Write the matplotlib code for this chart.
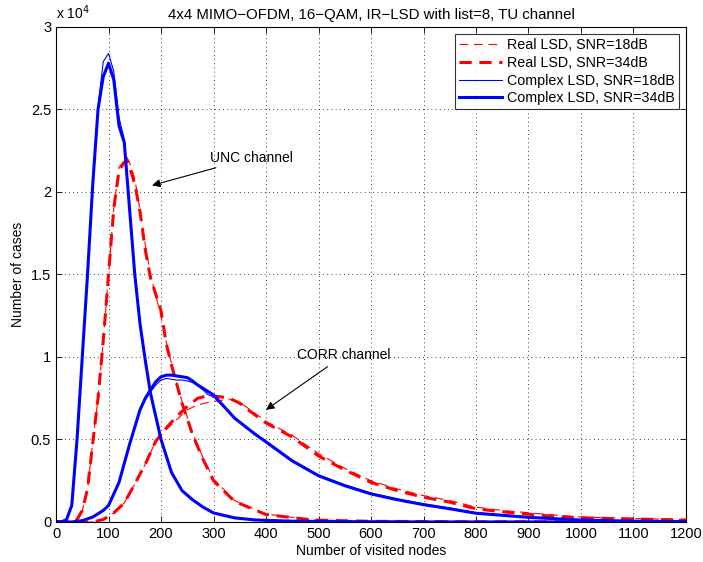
import matplotlib
matplotlib.use("Agg")
import matplotlib.pyplot as plt
from matplotlib.ticker import FuncFormatter, MultipleLocator

plt.rcParams['font.family'] = ['Liberation Sans', 'DejaVu Sans']

# ---- data (number of visited nodes vs number of cases) ----
c34_unc_x = [0, 10, 20, 30, 40, 50, 60, 70, 80, 90, 100, 110, 120, 130, 140, 150, 160, 170, 180, 200, 220, 240, 260, 280, 300, 340, 380, 450, 550, 700, 1200]
c34_unc_y = [0, 0, 150, 1000, 5000, 10000, 15000, 20500, 25000, 27000, 27800, 26800, 24000, 23000, 19000, 15000, 12000, 9800, 7800, 5000, 3000, 1900, 1350, 900, 550, 250, 120, 50, 20, 5, 0]
c18_unc_x = [0, 10, 20, 30, 40, 50, 60, 70, 80, 90, 100, 110, 120, 130, 140, 150, 160, 170, 180, 200, 220, 240, 260, 280, 300, 340, 380, 450, 550, 700, 1200]
c18_unc_y = [0, 0, 150, 1000, 5000, 10000, 15000, 20600, 25200, 27900, 28400, 27300, 24500, 23200, 19100, 15100, 12000, 9800, 7800, 5000, 3000, 1900, 1350, 900, 550, 250, 120, 50, 20, 5, 0]

r34_unc_x = [0, 30, 40, 50, 60, 70, 80, 90, 100, 110, 120, 130, 135, 140, 150, 160, 170, 180, 190, 200, 210, 220, 240, 260, 280, 300, 340, 400, 490, 600, 800, 1200]
r34_unc_y = [0, 0, 150, 700, 2000, 4800, 7500, 11000, 15000, 19000, 21300, 21800, 21900, 21500, 20500, 18800, 16500, 14800, 13800, 12800, 10800, 9500, 7200, 5300, 3800, 2500, 1250, 450, 120, 40, 10, 0]
r18_unc_x = [0, 30, 40, 50, 60, 70, 80, 90, 100, 110, 120, 130, 135, 140, 150, 160, 170, 180, 190, 200, 210, 220, 240, 260, 280, 300, 340, 400, 490, 600, 800, 1200]
r18_unc_y = [0, 0, 150, 700, 2000, 4800, 7500, 11000, 15000, 19000, 21500, 21900, 22100, 21800, 20800, 18900, 16800, 15000, 13700, 12500, 10900, 9600, 7300, 5400, 3900, 2600, 1300, 480, 130, 45, 12, 0]

c34_corr_x = [0, 30, 50, 70, 90, 100, 120, 140, 160, 170, 180, 190, 200, 210, 220, 230, 240, 250, 260, 270, 280, 290, 300, 320, 340, 360, 380, 400, 450, 500, 550, 600, 650, 700, 750, 800, 900, 1000, 1100, 1200]
c34_corr_y = [0, 0, 80, 300, 700, 1000, 2400, 4700, 6800, 7500, 8000, 8500, 8800, 8900, 8900, 8850, 8800, 8750, 8550, 8300, 8100, 7900, 7700, 7000, 6300, 5800, 5300, 4850, 3700, 2800, 2200, 1700, 1350, 1050, 800, 530, 280, 120, 50, 20]
c18_corr_x = [0, 30, 50, 70, 90, 100, 120, 140, 160, 170, 180, 190, 200, 210, 220, 230, 240, 250, 260, 270, 280, 290, 300, 320, 340, 360, 380, 400, 450, 500, 550, 600, 650, 700, 750, 800, 900, 1000, 1100, 1200]
c18_corr_y = [0, 0, 80, 300, 700, 1000, 2400, 4700, 6700, 7400, 7900, 8300, 8600, 8700, 8650, 8600, 8600, 8550, 8450, 8250, 8000, 7700, 7600, 6950, 6300, 5750, 5350, 4900, 3750, 2850, 2250, 1750, 1400, 1100, 850, 560, 300, 130, 55, 20]

r34_corr_x = [0, 70, 90, 110, 130, 150, 170, 190, 210, 230, 250, 270, 290, 310, 330, 350, 370, 400, 450, 500, 550, 600, 650, 700, 750, 800, 850, 900, 950, 1000, 1100, 1200]
r34_corr_y = [0, 0, 150, 550, 1150, 2300, 3500, 4900, 5700, 6400, 7000, 7500, 7650, 7600, 7500, 7200, 6700, 6000, 5150, 4000, 3150, 2400, 1900, 1500, 1200, 800, 620, 470, 340, 250, 180, 120]
r18_corr_x = [0, 70, 90, 110, 130, 150, 170, 190, 210, 230, 250, 270, 290, 310, 330, 350, 370, 400, 450, 500, 550, 600, 650, 700, 750, 800, 850, 900, 950, 1000, 1100, 1200]
r18_corr_y = [0, 0, 150, 550, 1150, 2300, 3500, 4900, 5600, 6200, 6800, 7100, 7250, 7350, 7450, 7250, 6800, 6100, 5250, 4150, 3250, 2500, 2000, 1600, 1300, 900, 700, 560, 420, 300, 210, 140]

title = "4x4 MIMO\u2212OFDM, 16\u2212QAM, IR\u2212LSD with list=8, TU channel"
xlabel = "Number of visited nodes"
ylabel = "Number of cases"
labels = ["Real LSD, SNR=18dB", "Real LSD, SNR=34dB", "Complex LSD, SNR=18dB", "Complex LSD, SNR=34dB"]

fig = plt.figure(figsize=(7.03, 5.62), dpi=100)
ax = fig.add_axes([0.0797, 0.0712, 0.8961, 0.8808])

thin = 0.8
thick = 2.2
h1, = ax.plot(r18_unc_x, r18_unc_y, color='red', lw=thin, ls=(0, (8, 5)))
ax.plot(r18_corr_x, r18_corr_y, color='red', lw=thin, ls=(0, (8, 5)))
h2, = ax.plot(r34_unc_x, r34_unc_y, color='red', lw=thick, ls=(0, (4, 2.5)))
ax.plot(r34_corr_x, r34_corr_y, color='red', lw=thick, ls=(0, (4, 2.5)))
h3, = ax.plot(c18_unc_x, c18_unc_y, color='blue', lw=thin)
ax.plot(c18_corr_x, c18_corr_y, color='blue', lw=thin)
h4, = ax.plot(c34_unc_x, c34_unc_y, color='blue', lw=thick)
ax.plot(c34_corr_x, c34_corr_y, color='blue', lw=thick)

ax.set_xlim(0, 1200)
ax.set_ylim(0, 30000)
ax.xaxis.set_major_locator(MultipleLocator(100))
ax.yaxis.set_major_locator(MultipleLocator(5000))
ax.yaxis.set_major_formatter(FuncFormatter(lambda v, p: ('%g' % (v / 1e4))))
ax.tick_params(direction='in', top=True, right=True, labelsize=10.5, length=4, width=0.6)
ax.grid(True, ls=(0, (1, 4)), color='black', lw=0.6)
for s in ax.spines.values():
    s.set_linewidth(0.8)

ax.set_title(title, fontsize=10.8, pad=6)
ax.set_xlabel(xlabel, fontsize=10, labelpad=2)
ax.set_ylabel(ylabel, fontsize=10, labelpad=4)
ax.text(0.0, 1.01, r'x 10$^{4}$', transform=ax.transAxes, fontsize=10, ha='left', va='bottom')

ax.annotate("UNC channel", xy=(183, 20400), xytext=(293, 22060), fontsize=10,
            va='center', ha='left',
            arrowprops=dict(arrowstyle='-|>', color='black', lw=0.8, shrinkA=0, shrinkB=0, mutation_scale=12))
ax.annotate("CORR channel", xy=(400, 6800), xytext=(459, 10100), fontsize=10,
            va='center', ha='left',
            arrowprops=dict(arrowstyle='-|>', color='black', lw=0.8, shrinkA=2, shrinkB=0, mutation_scale=12))

leg = ax.legend([h1, h2, h3, h4], labels, loc='upper right', fontsize=10.3, frameon=True,
                fancybox=False, edgecolor='black', borderpad=0.3, labelspacing=0.25,
                handlelength=3.0, handletextpad=0.3, borderaxespad=0.5)
leg.get_frame().set_linewidth(0.8)

fig.savefig("out.png", dpi=100)
